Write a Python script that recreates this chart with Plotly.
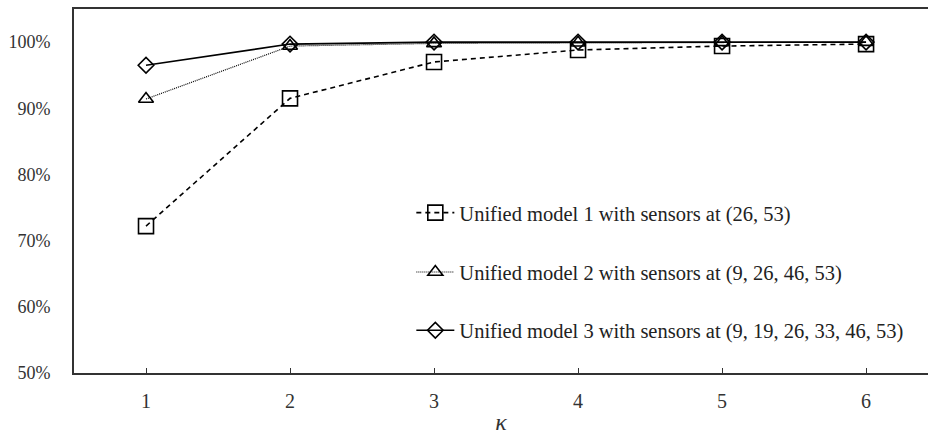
import plotly.graph_objects as go

kappa = [1, 2, 3, 4, 5, 6]
model1 = [72.2, 91.5, 97.0, 98.8, 99.4, 99.7]
model2 = [91.4, 99.4, 99.8, 99.9, 99.95, 100.0]
model3 = [96.5, 99.7, 100.0, 100.0, 100.0, 100.0]
names = [
    "Unified model 1 with sensors at (26, 53)",
    "Unified model 2 with sensors at (9, 26, 46, 53)",
    "Unified model 3 with sensors at (9, 19, 26, 33, 46, 53)",
]
yticks = [50, 60, 70, 80, 90, 100]
ytext = [f"{v}%" for v in yticks]

FONT = "Liberation Serif"
fig = go.Figure()
fig.add_trace(go.Scatter(
    x=kappa, y=model1, name=names[0], mode="lines+markers", legend="legend",
    line=dict(color="black", width=1.6, dash="5px,4px"),
    marker=dict(symbol="square-open", size=15, color="black", line=dict(width=1.6, color="black")),
))
fig.add_trace(go.Scatter(
    x=kappa, y=model2, name=names[1], mode="lines+markers", legend="legend2",
    line=dict(color="black", width=1.2, dash="1px,1px"),
    marker=dict(symbol="triangle-up-open", size=13, color="black", line=dict(width=1.6, color="black")),
))
fig.add_trace(go.Scatter(
    x=kappa, y=model3, name=names[2], mode="lines+markers", legend="legend3",
    line=dict(color="black", width=1.6),
    marker=dict(symbol="diamond-open", size=12, color="black", line=dict(width=1.6, color="black")),
))

leg = dict(xanchor="left", yanchor="middle", bgcolor="rgba(0,0,0,0)",
           font=dict(family=FONT, size=20.5, color="#222"), itemwidth=38)
fig.update_layout(
    width=928, height=436,
    margin=dict(l=74, r=0, t=9, b=63),
    plot_bgcolor="white", paper_bgcolor="white",
    font=dict(family=FONT, size=18, color="#333"),
    showlegend=True,
    legend=dict(leg, x=0.395, y=0.44),
    legend2=dict(leg, x=0.395, y=0.277),
    legend3=dict(leg, x=0.395, y=0.117),
    xaxis=dict(range=[0.5, 6.43], tickvals=kappa, showgrid=False, zeroline=False,
               showline=True, linecolor="#333", linewidth=2, mirror=True,
               ticks="inside", ticklen=5, tickcolor="#333", ticklabelstandoff=9,
               tickfont=dict(size=20),
               title=dict(text="<i>κ</i>", standoff=2, font=dict(size=24))),
    yaxis=dict(range=[50, 105], tickvals=yticks, ticktext=ytext, showgrid=False,
               zeroline=False, showline=True, linecolor="#333", linewidth=2,
               ticks="", ticklabelstandoff=18),
)
fig.write_html("out.html")
